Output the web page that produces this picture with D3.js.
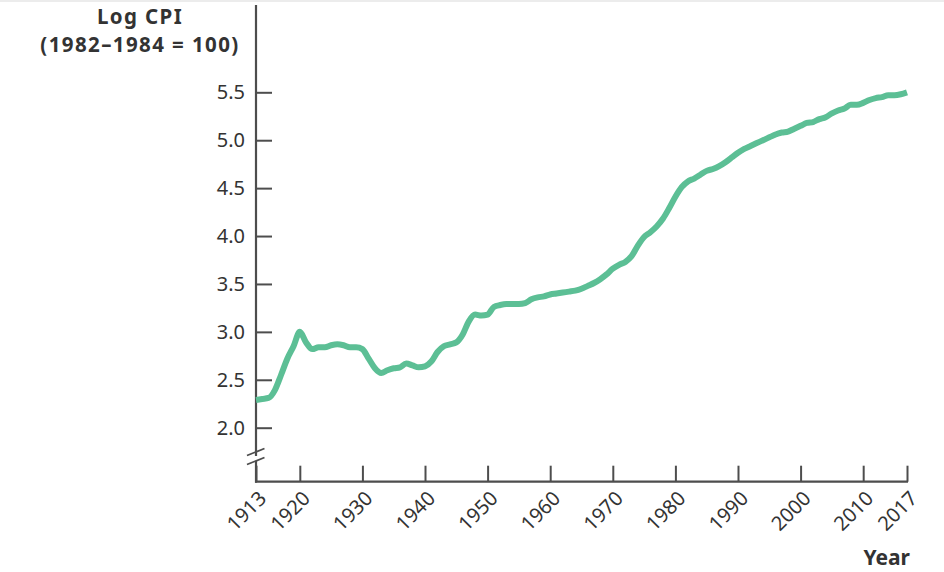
<!DOCTYPE html>
<html>
<head>
<meta charset="utf-8">
<script src="https://cdn.jsdelivr.net/npm/d3@7/dist/d3.min.js"></script>
<style>
  html, body { margin: 0; padding: 0; background: #fff; }
  svg { display: block; }
  text { font-family: "Noto Sans", sans-serif; fill: #333; }
</style>
</head>
<body>
<svg id="chart" width="944" height="572"></svg>
<script>
const years = [
  1913,1914,1915,1916,1917,1918,1919,1920,1921,1922,1923,1924,1925,1926,1927,1928,1929,
  1930,1931,1932,1933,1934,1935,1936,1937,1938,1939,1940,1941,1942,1943,1944,1945,1946,
  1947,1948,1949,1950,1951,1952,1953,1954,1955,1956,1957,1958,1959,1960,1961,1962,1963,
  1964,1965,1966,1967,1968,1969,1970,1971,1972,1973,1974,1975,1976,1977,1978,1979,1980,
  1981,1982,1983,1984,1985,1986,1987,1988,1989,1990,1991,1992,1993,1994,1995,1996,1997,
  1998,1999,2000,2001,2002,2003,2004,2005,2006,2007,2008,2009,2010,2011,2012,2013,2014,
  2015,2016,2017
];
const logCPI = [
  2.29,2.30,2.31,2.39,2.55,2.72,2.85,3.00,2.89,2.82,2.84,2.84,2.86,2.87,2.86,2.84,2.84,
  2.82,2.72,2.62,2.57,2.60,2.62,2.63,2.67,2.65,2.63,2.64,2.69,2.79,2.85,2.87,2.89,2.97,
  3.11,3.18,3.17,3.18,3.26,3.28,3.29,3.29,3.29,3.30,3.34,3.36,3.37,3.39,3.40,3.41,3.42,
  3.43,3.45,3.48,3.51,3.55,3.60,3.66,3.70,3.73,3.79,3.90,3.99,4.04,4.10,4.18,4.29,4.41,
  4.51,4.57,4.60,4.64,4.68,4.70,4.73,4.77,4.82,4.87,4.91,4.94,4.97,5.00,5.03,5.06,5.08,
  5.09,5.12,5.15,5.18,5.19,5.22,5.24,5.28,5.31,5.33,5.37,5.37,5.39,5.42,5.44,5.45,5.47,
  5.47,5.48,5.50
];
const yTicks = [2.0, 2.5, 3.0, 3.5, 4.0, 4.5, 5.0, 5.5];
const xTicks = [1913, 1920, 1930, 1940, 1950, 1960, 1970, 1980, 1990, 2000, 2010, 2017];
const yTitle = ["Log CPI", "(1982\u20131984 = 100)"];
const xTitle = "Year";

const svg = d3.select("#chart");
const axisColor = "#4d4d4d";
const lineColor = "#5cbf95";

// faint top border
svg.append("line").attr("x1", 0).attr("x2", 944).attr("y1", 1).attr("y2", 1)
  .attr("stroke", "#e6e6e6").attr("stroke-width", 1.5);

const x = d3.scaleLinear().domain([1913, 2017]).range([256, 907]);
const y = d3.scaleLinear().domain([2, 5.5]).range([427.7, 92.3]);
const axisY = 481.7;
const axisX = 256;

// Y axis
const gy = svg.append("g").attr("transform", `translate(${axisX},0)`)
  .call(d3.axisLeft(y).tickValues(yTicks).tickFormat(d3.format(".1f"))
    .tickSizeInner(-16).tickSizeOuter(0).tickPadding(11));
gy.select(".domain").remove();
gy.selectAll(".tick line").attr("stroke", axisColor).attr("stroke-width", 2);
gy.selectAll(".tick text").attr("font-size", 20).attr("fill", "#333")
  .attr("font-family", "Noto Sans, sans-serif");

// y axis line with break
svg.append("line").attr("x1", axisX).attr("x2", axisX).attr("y1", 5).attr("y2", 456)
  .attr("stroke", axisColor).attr("stroke-width", 2.2);
svg.append("line").attr("x1", axisX).attr("x2", axisX).attr("y1", 461).attr("y2", axisY + 1)
  .attr("stroke", axisColor).attr("stroke-width", 2.2);
[[247, 455.5, 264.5, 448.5], [247, 464.5, 264.5, 457.5]].forEach(s => {
  svg.append("line").attr("x1", s[0]).attr("y1", s[1]).attr("x2", s[2]).attr("y2", s[3])
    .attr("stroke", axisColor).attr("stroke-width", 1.8);
});

// X axis
const gx = svg.append("g").attr("transform", `translate(0,${axisY})`)
  .call(d3.axisBottom(x).tickValues(xTicks).tickFormat(d3.format("d"))
    .tickSizeInner(-16).tickSizeOuter(0));
gx.select(".domain").remove();
gx.selectAll(".tick line").attr("stroke", axisColor).attr("stroke-width", 2);
gx.selectAll(".tick text")
  .attr("x", 0).attr("y", 0).attr("dy", 0)
  .attr("text-anchor", "end")
  .attr("transform", "translate(11,18) rotate(-45)")
  .attr("font-size", 20).attr("fill", "#333")
  .attr("font-family", "Noto Sans, sans-serif");
svg.append("line").attr("x1", axisX - 1).attr("x2", x(2017) + 1).attr("y1", axisY).attr("y2", axisY)
  .attr("stroke", axisColor).attr("stroke-width", 2.2);

// Titles
svg.append("text").attr("x", 140).attr("y", 23.5).attr("text-anchor", "middle")
  .attr("font-weight", "bold").attr("font-size", 20.5).attr("letter-spacing", 1.4)
  .attr("fill", "#333").text(yTitle[0]);
svg.append("text").attr("x", 140).attr("y", 51.5).attr("text-anchor", "middle")
  .attr("font-weight", "bold").attr("font-size", 20.5).attr("letter-spacing", 1.4)
  .attr("fill", "#333").text(yTitle[1]);
svg.append("text").attr("x", 910).attr("y", 565).attr("text-anchor", "end")
  .attr("font-weight", "bold").attr("font-size", 21).attr("fill", "#333").text(xTitle);

// Line
const data = years.map((yr, i) => ({ year: yr, v: logCPI[i] }));
const line = d3.line().x(d => x(d.year)).y(d => y(d.v)).curve(d3.curveMonotoneX);
svg.append("path").datum(data).attr("d", line)
  .attr("fill", "none").attr("stroke", lineColor).attr("stroke-width", 6)
  .attr("stroke-linejoin", "round").attr("stroke-linecap", "butt");
</script>
</body>
</html>
